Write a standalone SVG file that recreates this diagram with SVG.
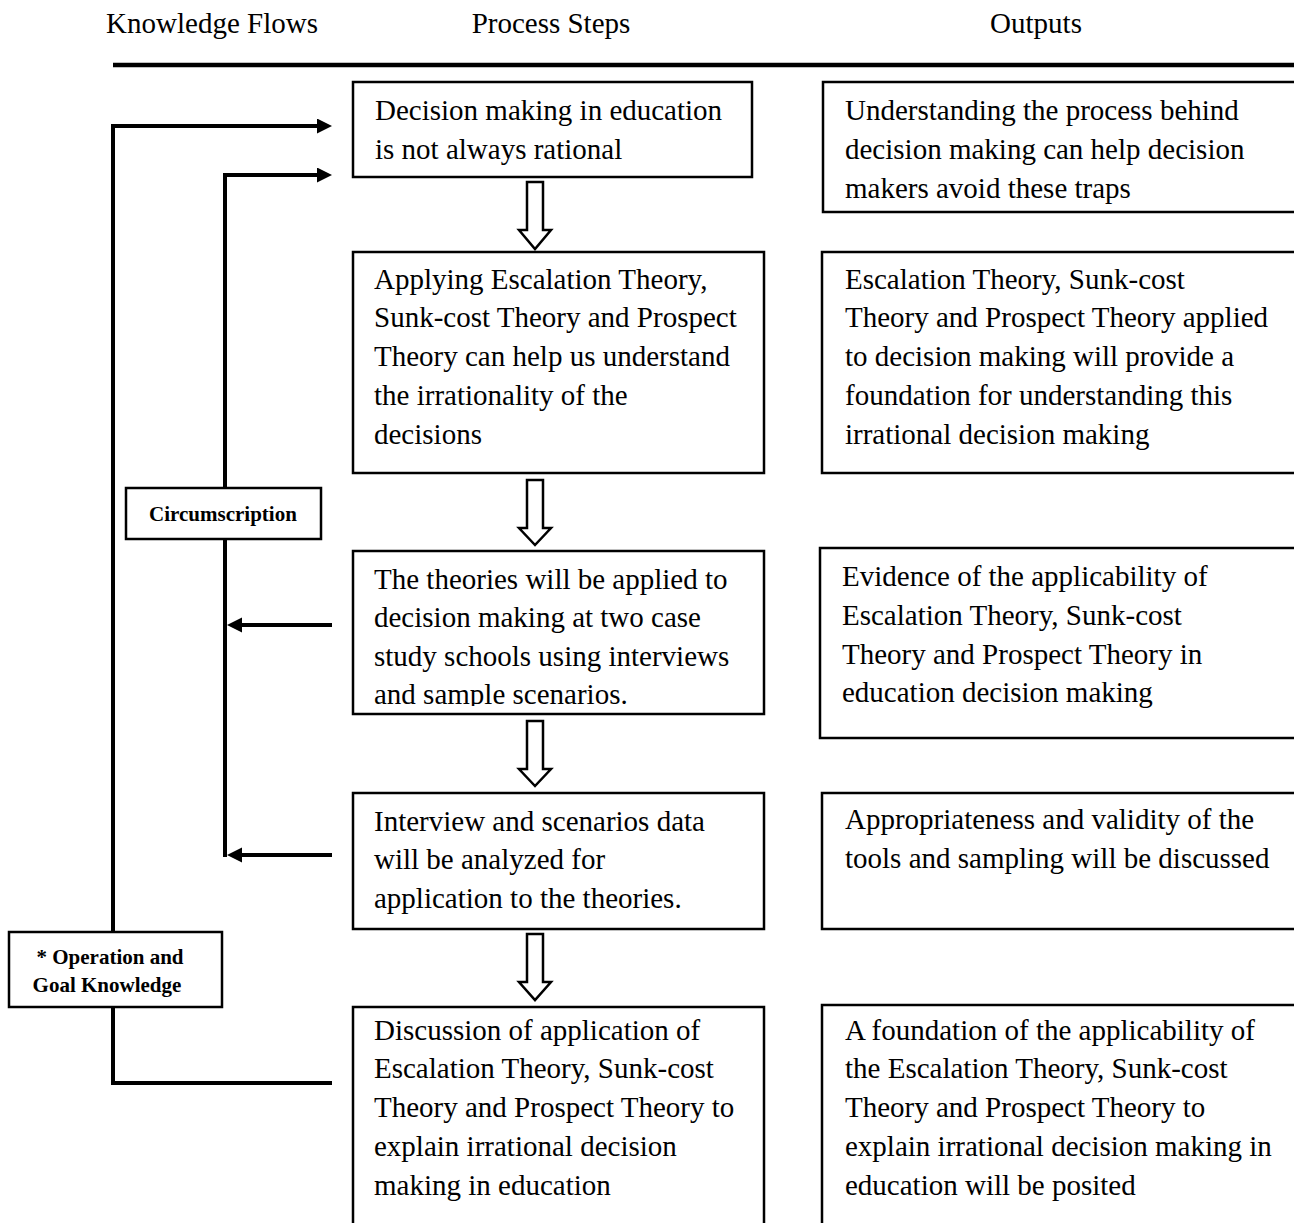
<svg xmlns="http://www.w3.org/2000/svg" width="1294" height="1223" viewBox="0 0 1294 1223">
<style>
.box{fill:#fff;stroke:#000;stroke-width:2.5}
.t{font-family:"Liberation Serif","Times New Roman",serif;font-size:29px;fill:#000}
.h{font-family:"Liberation Serif","Times New Roman",serif;font-size:29px;fill:#000;text-anchor:middle}
.b{font-family:"Liberation Serif","Times New Roman",serif;font-size:21px;font-weight:bold;fill:#000;text-anchor:middle}
.c{fill:none;stroke:#000;stroke-width:4;stroke-linejoin:miter}
.ha{fill:#fff;stroke:#000;stroke-width:2.5;stroke-linejoin:miter}
</style>
<defs>
<marker id="ah" markerUnits="userSpaceOnUse" markerWidth="16" markerHeight="16" refX="0" refY="7.5" orient="auto">
<path d="M0,0 L15,7.5 L0,15 Z" fill="#000"/>
</marker>
<clipPath id="clipP3"><rect x="353" y="551" width="411" height="155"/></clipPath>
</defs>
<rect width="1294" height="1223" fill="#fff"/>

<g id="headers">
<text class="h" x="212" y="33">Knowledge Flows</text>
<text class="h" x="551" y="33">Process Steps</text>
<text class="h" x="1036" y="33">Outputs</text>
<line x1="113" y1="65" x2="1294" y2="65" stroke="#000" stroke-width="4.5"/>
</g>

<g id="connectors">
<path class="c" d="M332,1083 H113 V126 H317" marker-end="url(#ah)"/>
<path class="c" d="M225,857 V175 H317" marker-end="url(#ah)"/>
<path class="c" d="M332,625 H242" marker-end="url(#ah)"/>
<path class="c" d="M332,855 H242" marker-end="url(#ah)"/>
<polygon class="ha" points="527,182 543,182 543,230 551,230 535,249 519,230 527,230"/>
<polygon class="ha" points="527,480 543,480 543,528 551,528 535,545 519,528 527,528"/>
<polygon class="ha" points="527,721 543,721 543,769 551,769 535,786 519,769 527,769"/>
<polygon class="ha" points="527,934 543,934 543,982 551,982 535,1000 519,982 527,982"/>
</g>

<g id="circumscription">
<rect class="box" x="126" y="488" width="195" height="51"/>
<text class="b" x="223" y="521">Circumscription</text>
</g>

<g id="operation">
<rect class="box" x="9" y="932" width="213" height="75"/>
<text class="b" x="110" y="964">* Operation and</text>
<text class="b" x="107" y="992">Goal Knowledge</text>
</g>

<g id="p1">
<rect class="box" x="353" y="82" width="399" height="95"/>
<text class="t" x="375" y="120">Decision making in education</text>
<text class="t" x="375" y="159">is not always rational</text>
</g>

<g id="p2">
<rect class="box" x="353" y="252" width="411" height="221"/>
<text class="t" x="374" y="289">Applying Escalation Theory,</text>
<text class="t" x="374" y="327">Sunk-cost Theory and Prospect</text>
<text class="t" x="374" y="366">Theory can help us understand</text>
<text class="t" x="374" y="405">the irrationality of the</text>
<text class="t" x="374" y="444">decisions</text>
</g>

<g id="p3">
<rect class="box" x="353" y="551" width="411" height="163"/>
<g clip-path="url(#clipP3)">
<text class="t" x="374" y="589">The theories will be applied to</text>
<text class="t" x="374" y="627">decision making at two case</text>
<text class="t" x="374" y="666">study schools using interviews</text>
<text class="t" x="374" y="704">and sample scenarios.</text>
</g>
</g>

<g id="p4">
<rect class="box" x="353" y="793" width="411" height="136"/>
<text class="t" x="374" y="831">Interview and scenarios data</text>
<text class="t" x="374" y="869">will be analyzed for</text>
<text class="t" x="374" y="908">application to the theories.</text>
</g>

<g id="p5">
<rect class="box" x="353" y="1007" width="411" height="240"/>
<text class="t" x="374" y="1040">Discussion of application of</text>
<text class="t" x="374" y="1078">Escalation Theory, Sunk-cost</text>
<text class="t" x="374" y="1117">Theory and Prospect Theory to</text>
<text class="t" x="374" y="1156">explain irrational decision</text>
<text class="t" x="374" y="1195">making in education</text>
</g>

<g id="o1">
<rect class="box" x="823" y="82" width="500" height="130"/>
<text class="t" x="845" y="120">Understanding the process behind</text>
<text class="t" x="845" y="159">decision making can help decision</text>
<text class="t" x="845" y="198">makers avoid these traps</text>
</g>

<g id="o2">
<rect class="box" x="822" y="252" width="500" height="221"/>
<text class="t" x="845" y="289">Escalation Theory, Sunk-cost</text>
<text class="t" x="845" y="327">Theory and Prospect Theory applied</text>
<text class="t" x="845" y="366">to decision making will provide a</text>
<text class="t" x="845" y="405">foundation for understanding this</text>
<text class="t" x="845" y="444">irrational decision making</text>
</g>

<g id="o3">
<rect class="box" x="820" y="548" width="500" height="190"/>
<text class="t" x="842" y="586">Evidence of the applicability of</text>
<text class="t" x="842" y="625">Escalation Theory, Sunk-cost</text>
<text class="t" x="842" y="664">Theory and Prospect Theory in</text>
<text class="t" x="842" y="702">education decision making</text>
</g>

<g id="o4">
<rect class="box" x="822" y="793" width="500" height="136"/>
<text class="t" x="845" y="829">Appropriateness and validity of the</text>
<text class="t" x="845" y="868">tools and sampling will be discussed</text>
</g>

<g id="o5">
<rect class="box" x="822" y="1005" width="500" height="240"/>
<text class="t" x="845" y="1040">A foundation of the applicability of</text>
<text class="t" x="845" y="1078">the Escalation Theory, Sunk-cost</text>
<text class="t" x="845" y="1117">Theory and Prospect Theory to</text>
<text class="t" x="845" y="1156">explain irrational decision making in</text>
<text class="t" x="845" y="1195">education will be posited</text>
</g>
</svg>
